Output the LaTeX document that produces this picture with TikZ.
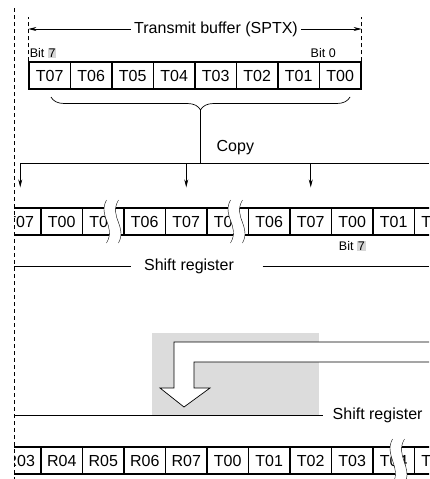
\documentclass[tikz,border=0pt]{standalone}
\usepackage{fontspec}
\setmainfont{Liberation Sans}
\usetikzlibrary{positioning}
\usetikzlibrary{arrows.meta}
\usetikzlibrary{calc}
\usetikzlibrary{decorations.pathreplacing}
\definecolor{boxgray}{HTML}{DCDCDC}
\definecolor{hilite}{HTML}{D6D6D6}
\newcommand\bitseven{Bit {\setlength{\fboxsep}{0.8pt}\colorbox{hilite}{7}}}
% break mark over a row: #1 = centre x, #2 = top, #3 = bottom
\newcommand\cutmark[3]{%
  \fill[white] ({#1-6},#2) .. controls ({#1-15},{#2+17}) and ({#1+4},{#3-17}) .. ({#1-6},#3)
    -- ({#1+6},#3) .. controls ({#1+15},{#3-17}) and ({#1-4},{#2+17}) .. ({#1+6},#2) -- cycle;
  \draw[thin] ({#1-6},#2) .. controls ({#1-15},{#2+17}) and ({#1+4},{#3-17}) .. ({#1-6},#3);
  \draw[thin] ({#1+6},#2) .. controls ({#1-4},{#2+17}) and ({#1+15},{#3-17}) .. ({#1+6},#3);
}

\begin{document}
\begin{tikzpicture}[x=1pt, y=-1pt, line width=0.7pt,
                    every node/.style={font=\fontsize{16}{19}\selectfont},
                    cell/.style={draw, line width=1.2pt, minimum width=41.5pt,
                                 minimum height=27pt, inner sep=0pt},
                    bitlbl/.style={font=\fontsize{12.5}{15}\selectfont, inner sep=1pt},
                    tip/.style={-{Stealth[length=8pt, width=4pt]}}]

  \useasboundingbox (0,0) rectangle (429,479);

  % left border of the register window
  \draw[dashed, dash pattern=on 4pt off 3pt] (14,8) -- (14,479);

  % transmit buffer
  \foreach \lbl [count=\i from 0] in {T07,T06,T05,T04,T03,T02,T01,T00}
    \node[cell] (tb\i) at ({49.75+41.5*\i}, 75.5) {\lbl};

  \node (ttl) at (216,29) {Transmit buffer (SPTX)};
  \draw[dashed, dash pattern=on 4pt off 3pt] (tb0.north west) -- ++(0,-44);
  \draw[dashed, dash pattern=on 4pt off 3pt] (tb7.north east) -- ++(0,-44);
  \draw[tip] (ttl.west) -- (tb0.west |- ttl);
  \draw[tip] (ttl.east) -- (tb7.east |- ttl);
  \node[bitlbl, anchor=south west] at ([yshift=2pt]tb0.north west) {\bitseven};
  \node[bitlbl, anchor=south] at ([xshift=-17pt, yshift=2pt]tb7.north) {Bit 0};

  \draw[decorate, decoration={brace, amplitude=13pt}]
    (350,97) -- (51,97) coordinate[midway, yshift=-13pt] (brc);

  % shift register, first row
  \begin{scope}
    \clip (14,0) rectangle (429,479);
    \foreach \lbl [count=\i from 0] in {T07,T00,T01,T06,T07,T00,T06,T07,T00,T01,T02}
      \node[cell] (sr\i) at ({20.25+41.5*\i}, 221.5) {\lbl};
    \cutmark{112.5}{200}{243}
    \cutmark{236.5}{200}{243}
  \end{scope}

  \coordinate (cpy) at (brc |- 0,163);
  \draw (brc) -- (cpy);
  \node[anchor=west] at (213,148) {Copy};
  \draw (sr0.north |- cpy) -- (429,163);
  \foreach \k in {0,4,7}
    \draw[tip] (sr\k.north |- cpy) -- ([yshift=20pt]sr\k.north);

  \node[bitlbl, below=4pt of sr8] {\bitseven};

  \node (srlbl) at (189,266) {Shift register};
  \draw (14,266) -- ([xshift=-9pt]srlbl.west);
  \draw ([xshift=25pt]srlbl.east) -- (429,266);

  % receive side
  \fill[boxgray] (152,333) rectangle (319,415);
  \fill[white] (429,342) -- (174,342) -- (174,388) -- (160,388) -- (184,407)
    -- (210,388) -- (194,388) -- (194,362) -- (429,362) -- cycle;
  \draw (429,342) -- (174,342) -- (174,388) -- (160,388) -- (184,407)
    -- (210,388) -- (194,388) -- (194,362) -- (429,362);

  \node[anchor=west] (rxlbl) at (329,415) {Shift register};
  \draw (14,415) -- ([xshift=-6pt]rxlbl.west);

  \begin{scope}
    \clip (14,0) rectangle (429,479);
    \foreach \lbl [count=\i from 0] in {R03,R04,R05,R06,R07,T00,T01,T02,T03,T04,T05}
      \node[cell] (rx\i) at ({20.25+41.5*\i}, 460.5) {\lbl};
    \cutmark{398.5}{439}{484}
  \end{scope}

\end{tikzpicture}
\end{document}
